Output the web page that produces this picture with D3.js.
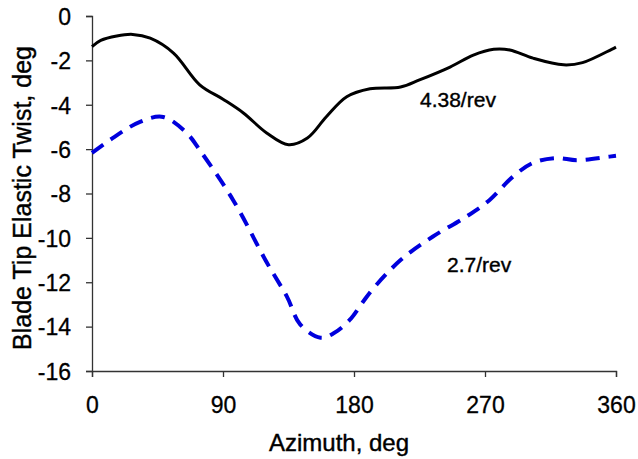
<!DOCTYPE html>
<html>
<head>
<meta charset="utf-8">
<script src="https://cdn.jsdelivr.net/npm/d3@7"></script>
<style>
  body { margin: 0; background: #fff; }
  text { font-family: "Liberation Sans", Arial, sans-serif; fill: #000; }
</style>
</head>
<body>
<svg id="chart" width="638" height="459"></svg>
<script>
const w = 638, h = 459;
const margins = { top: 16, right: 22, bottom: 88, left: 92 };

// 4.38/rev curve (black solid)
const azimuth438 = [0, 6, 17, 28, 40, 56, 74, 90, 104, 120, 135, 148, 161, 175, 191, 212, 225, 246, 262, 276, 287, 303, 324, 337, 357, 360];
const twist438 = [-1.38, -1.1, -0.9, -0.83, -1.0, -1.67, -3.1, -3.75, -4.37, -5.27, -5.8, -5.5, -4.54, -3.64, -3.28, -3.2, -2.88, -2.3, -1.76, -1.5, -1.53, -1.9, -2.2, -2.1, -1.5, -1.4];

// 2.7/rev curve (blue dashed)
const azimuth27 = [0, 12, 33, 49, 65, 74, 97, 120, 134, 143, 157, 166, 177, 186, 193, 212, 234, 257, 273, 289, 303, 319, 333, 354, 360];
const twist27 = [-6.17, -5.6, -4.77, -4.55, -5.27, -6.04, -8.3, -11.1, -12.66, -13.9, -14.5, -14.3, -13.7, -12.9, -12.3, -11.0, -9.95, -9.05, -8.3, -7.25, -6.62, -6.4, -6.5, -6.35, -6.3];

const xTicks = [0, 90, 180, 270, 360];
const yTicks = [0, -2, -4, -6, -8, -10, -12, -14, -16];

const svg = d3.select('#chart');

const xScale = d3.scaleLinear()
  .domain([0, 360])
  .range([margins.left, w - margins.right]);

const yScale = d3.scaleLinear()
  .domain([-16, 0])
  .range([h - margins.bottom, margins.top]);

// AXES (plain hyphen for negatives, like the original)
const xAxisGroup = svg.append('g')
  .attr('transform', `translate(0, ${h - margins.bottom})`)
  .call(d3.axisBottom(xScale).tickValues(xTicks).tickFormat(d => String(d)).tickSize(6).tickPadding(20));

const yAxisGroup = svg.append('g')
  .attr('transform', `translate(${margins.left}, 0)`)
  .call(d3.axisLeft(yScale).tickValues(yTicks).tickFormat(d => String(d)).tickSize(6).tickPadding(15));

[xAxisGroup, yAxisGroup].forEach(g => {
  g.select('.domain').attr('stroke', '#333').attr('stroke-width', 1.3);
  g.selectAll('.tick line').attr('stroke', '#333').attr('stroke-width', 1.3);
  g.selectAll('.tick text')
    .style('font-family', '"Liberation Sans", Arial, sans-serif')
    .style('font-size', '23px')
    .style('stroke', '#000').style('stroke-width', 0.3)
    .attr('fill', '#000');
});
yAxisGroup.selectAll('.tick text').attr('dy', '0.36em');

// LINES
const line = d3.line()
  .x(d => xScale(d[0]))
  .y(d => yScale(d[1]))
  .curve(d3.curveCatmullRom.alpha(0.5));

svg.append('path')
  .datum(azimuth438.map((a, i) => [a, twist438[i]]))
  .attr('d', line)
  .attr('fill', 'none')
  .attr('stroke', '#000')
  .attr('stroke-width', 3);

svg.append('path')
  .datum(azimuth27.map((a, i) => [a, twist27[i]]))
  .attr('d', line)
  .attr('fill', 'none')
  .attr('stroke', '#0000dd')
  .attr('stroke-width', 4)
  .attr('stroke-dasharray', '14,9');

// CURVE LABELS
svg.append('text')
  .attr('x', 420).attr('y', 107)
  .style('font-size', '21px')
  .style('stroke', '#000').style('stroke-width', 0.4)
  .text('4.38/rev');

svg.append('text')
  .attr('x', 447).attr('y', 272)
  .style('font-size', '21px')
  .style('stroke', '#000').style('stroke-width', 0.4)
  .text('2.7/rev');

// AXIS TITLES
svg.append('text')
  .attr('x', 339)
  .attr('y', 451)
  .attr('text-anchor', 'middle')
  .style('font-size', '24px')
  .style('stroke', '#000').style('stroke-width', 0.4)
  .text('Azimuth, deg');

svg.append('text')
  .attr('transform', `translate(${31}, ${198}) rotate(-90)`)
  .attr('text-anchor', 'middle')
  .style('font-size', '25px')
  .style('stroke', '#000').style('stroke-width', 0.4)
  .text('Blade Tip Elastic Twist, deg');
</script>
</body>
</html>
